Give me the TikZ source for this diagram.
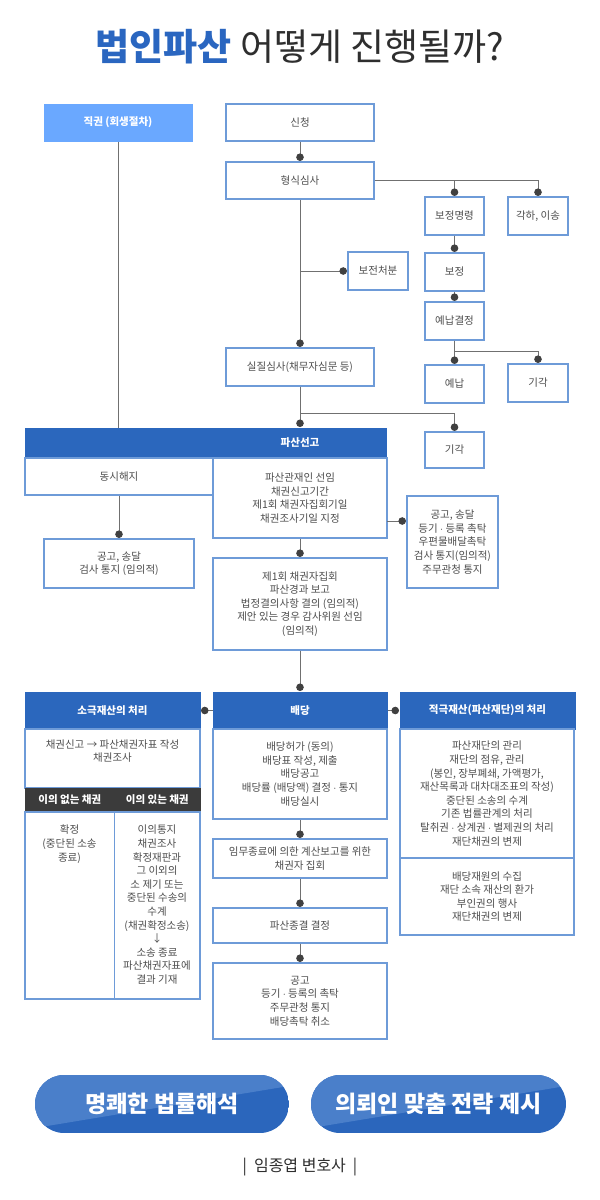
\documentclass[tikz,border=0pt]{standalone}
\usepackage{fontspec}
\setmainfont{Noto Sans CJK KR}
\usetikzlibrary{arrows.meta,calc}
\definecolor{boxc}{HTML}{6E9BD8}
\definecolor{hdr}{HTML}{2B67BD}
\definecolor{jikc}{HTML}{6AA8FF}
\definecolor{darkh}{HTML}{3B3B3B}
\definecolor{linec}{HTML}{707070}
\definecolor{dotc}{HTML}{404040}
\definecolor{txt}{HTML}{4E4E4E}
\definecolor{titleblue}{HTML}{2A66C0}
\definecolor{titledark}{HTML}{2E2E2E}
\definecolor{btnbase}{HTML}{2B66BC}
\definecolor{btnlight}{HTML}{4A7FCA}
\newcommand{\mkbox}[7]{\node[#2, minimum width={(#5-#3)*1pt}, minimum height={(#6-#4)*1pt}] (#1) at ({(#3+#5)/2},{(#4+#6)/2}) {#7};}
\begin{document}
\begin{tikzpicture}[x=1pt,y=-1pt,
  box/.style={draw=boxc, line width=1.1pt, fill=white, inner sep=0pt, align=center, text=txt, font=\fontsize{10.5}{13.6}\selectfont},
  hdrbox/.style={fill=hdr, draw=hdr, line width=1pt, inner sep=0pt, align=center, text=white, font=\bfseries\fontsize{10.5}{13}\selectfont},
  jikbox/.style={fill=jikc, draw=jikc, line width=1pt, inner sep=0pt, align=center, text=white, font=\bfseries\fontsize{10.5}{13}\selectfont},
  darkbox/.style={fill=darkh, draw=darkh, line width=0.8pt, inner sep=0pt, align=center, text=white, font=\bfseries\fontsize{10.5}{13}\selectfont},
  txtn/.style={text=txt, align=center, inner sep=0pt, font=\fontsize{10.5}{13.6}\selectfont},
  conn/.style={draw=linec, line width=1pt},
  dotend/.style={conn, -{Circle[length=7.5pt,width=7.5pt,color=dotc,fill=dotc]}, shorten >=0.5pt},
  btntext/.style={text=white, inner sep=0pt, font=\bfseries\fontsize{23}{26}\selectfont}
]
\useasboundingbox (0,0) rectangle (600,1200);
\fill[white] (0,0) rectangle (600,1200);

% title
\node[inner sep=0pt] (title) at (300,47) {\fontsize{37}{40}\selectfont\textcolor{titleblue}{\bfseries 법인파산} \textcolor{titledark}{어떻게 진행될까?}};

% upper flow
\mkbox{jik}{jikbox}{44}{104}{192}{141}{직권 (회생절차)}
\mkbox{sin}{box}{226}{104}{374}{141}{신청}
\mkbox{hyeong}{box}{226}{162}{374}{199}{형식심사}
\mkbox{bojm}{box}{425}{197}{484}{235}{보정명령}
\mkbox{gakha}{box}{508}{197}{568}{235}{각하, 이송}
\mkbox{bojeon}{box}{348}{252}{408}{290}{보전처분}
\mkbox{bojeong}{box}{425}{253}{484}{291}{보정}
\mkbox{yenapg}{box}{425}{302}{484}{340}{예납결정}
\mkbox{siljil}{box}{226}{348}{374}{386}{실질심사(채무자심문 등)}
\mkbox{yenap}{box}{425}{365}{484}{403}{예납}
\mkbox{gigaka}{box}{508}{364}{568}{402}{기각}
\mkbox{gigakb}{box}{425}{432}{484}{468}{기각}

% bankruptcy declaration
\mkbox{bar}{hdrbox}{25}{428}{386}{458}{}
\node[text=white, font=\bfseries\fontsize{10.5}{13}\selectfont, inner sep=0pt] (bartext) at (300,443) {파산선고};
\mkbox{dongsi}{box}{25}{458}{213}{495}{동시해지}
\mkbox{pagwan}{box}{213}{458}{387}{538}{파산관재인 선임\\채권신고기간\\제1회 채권자집회기일\\채권조사기일 지정}
\mkbox{gonga}{box}{44}{539}{194}{588}{공고, 송달\\검사 통지 (임의적)}
\mkbox{je}{box}{213}{558}{387}{650}{제1회 채권자집회\\파산경과 보고\\법정결의사항 결의 (임의적)\\제안 있는 경우 감사위원 선임\\(임의적)}
\mkbox{gongb}{box}{407}{496}{498}{588}{공고, 송달\\등기 $\cdot$ 등록 촉탁\\우편물배달촉탁\\검사 통지(임의적)\\주무관청 통지}

% three columns
\mkbox{soguk}{hdrbox}{25}{692}{200}{729}{소극재산의 처리}
\mkbox{baedang}{hdrbox}{213}{692}{387}{729}{배당}
\mkbox{jeokguk}{hdrbox}{400}{692}{575}{729}{적극재산(파산재단)의 처리}

\mkbox{sogukbody}{box}{25}{729}{200}{788}{}
\node[txtn] (sogukt) at (112.5,751) {채권신고 → 파산채권자표 작성\\채권조사};
\mkbox{darka}{darkbox}{25}{788}{114.5}{812}{이의 없는 채권}
\mkbox{darkb}{darkbox}{114.5}{788}{200}{812}{이의 있는 채권}
\mkbox{cola}{box}{25}{812}{114.5}{999}{}
\mkbox{colb}{box}{114.5}{812}{200}{999}{}
\node[txtn, anchor=north] (colat) at (69.5,825) {확정\\(중단된 소송\\종료)};
\node[txtn, anchor=north] (colbt) at (157,825) {이의통지\\채권조사\\확정재판과\\그 이외의\\소 제기 또는\\중단된 수송의\\수계\\(채권확정소송)\\↓\\소송 종료\\파산채권자표에\\결과 기재};

\mkbox{baedangbody}{box}{213}{729}{387}{819}{배당허가 (동의)\\배당표 작성, 제출\\배당공고\\배당률 (배당액) 결정 $\cdot$ 통지\\배당실시}
\mkbox{imu}{box}{213}{839}{387}{878}{임무종료에 의한 계산보고를 위한\\채권자 집회}
\mkbox{jong}{box}{213}{908}{387}{943}{파산종결 결정}
\mkbox{gonggo}{box}{213}{963}{387}{1039}{공고\\등기 $\cdot$ 등록의 촉탁\\주무관청 통지\\배당촉탁 취소}

\mkbox{jeoka}{box}{400}{729}{574}{858}{파산재단의 관리\\재단의 점유, 관리\\(봉인, 장부폐쇄, 가액평가,\\재산목록과 대차대조표의 작성)\\중단된 소송의 수계\\기존 법률관계의 처리\\탈취권 $\cdot$ 상계권 $\cdot$ 별제권의 처리\\재단채권의 변제}
\mkbox{jeokb}{box}{400}{858}{574}{935}{배당재원의 수집\\재단 소속 재산의 환가\\부인권의 행사\\재단채권의 변제}

% connectors
\draw[dotend] (sin.south) -- (hyeong.north);
\draw[dotend] (hyeong.east) -| (bojm.north);
\draw[dotend] (hyeong.east) -| (gakha.north);
\draw[dotend] (bojm.south) -- (bojeong.north);
\draw[dotend] (bojeong.south) -- (yenapg.north);
\draw[dotend] (yenapg.south) -- (yenap.north);
\draw[dotend] (yenapg.south) -- ++(0,11) -| (gigaka.north);
\draw[dotend] (hyeong.south) -- (siljil.north);
\coordinate (bjp) at (hyeong.south |- bojeon.west);
\draw[dotend] (bjp) -- (bojeon.west);
\coordinate (bartop) at (siljil.south |- bar.north);
\draw[dotend] (siljil.south) -- (bartop);
\draw[dotend] (siljil.south) -- ++(0,27) -| (gigakb.north);
\coordinate (jikend) at (jik.south |- bar.north);
\draw[conn] (jik.south) -- (jikend);
\draw[dotend] (dongsi.south) -- (dongsi.south |- gonga.north);
\draw[dotend] (pagwan.south) -- (je.north);
\coordinate (pe) at (387,521);
\draw[dotend] (pe) -- (pe -| gongb.west);
\draw[dotend] (je.south) -- (baedang.north);
\draw[dotend] (baedang.west) -- (soguk.east);
\draw[dotend] (baedang.east) -- (jeokguk.west);
\draw[dotend] (baedangbody.south) -- (imu.north);
\draw[dotend] (imu.south) -- (jong.north);
\draw[dotend] (jong.south) -- (gonggo.north);

% buttons
\begin{scope}
\clip[rounded corners=29pt] (35,1075) rectangle (289,1133);
\fill[btnbase] (35,1075) rectangle (289,1133);
\fill[btnlight] (35,1075) -- (289,1075) -- (289,1086) -- (35,1128) -- cycle;
\end{scope}
\begin{scope}
\clip[rounded corners=29pt] (311,1075) rectangle (566,1133);
\fill[btnbase] (311,1075) rectangle (566,1133);
\fill[btnlight] (311,1075) -- (566,1075) -- (566,1086) -- (311,1128) -- cycle;
\end{scope}
\node[btntext] (btna) at (162,1104) {명쾌한 법률해석};
\node[btntext] (btnb) at (438.5,1104) {의뢰인 맞춤 전략 제시};

\node[text=titledark, inner sep=0pt, font=\fontsize{16}{18}\selectfont] (sig) at (300,1167) {|\hspace{7pt}임종엽 변호사\hspace{7pt}|};
\end{tikzpicture}
\end{document}
